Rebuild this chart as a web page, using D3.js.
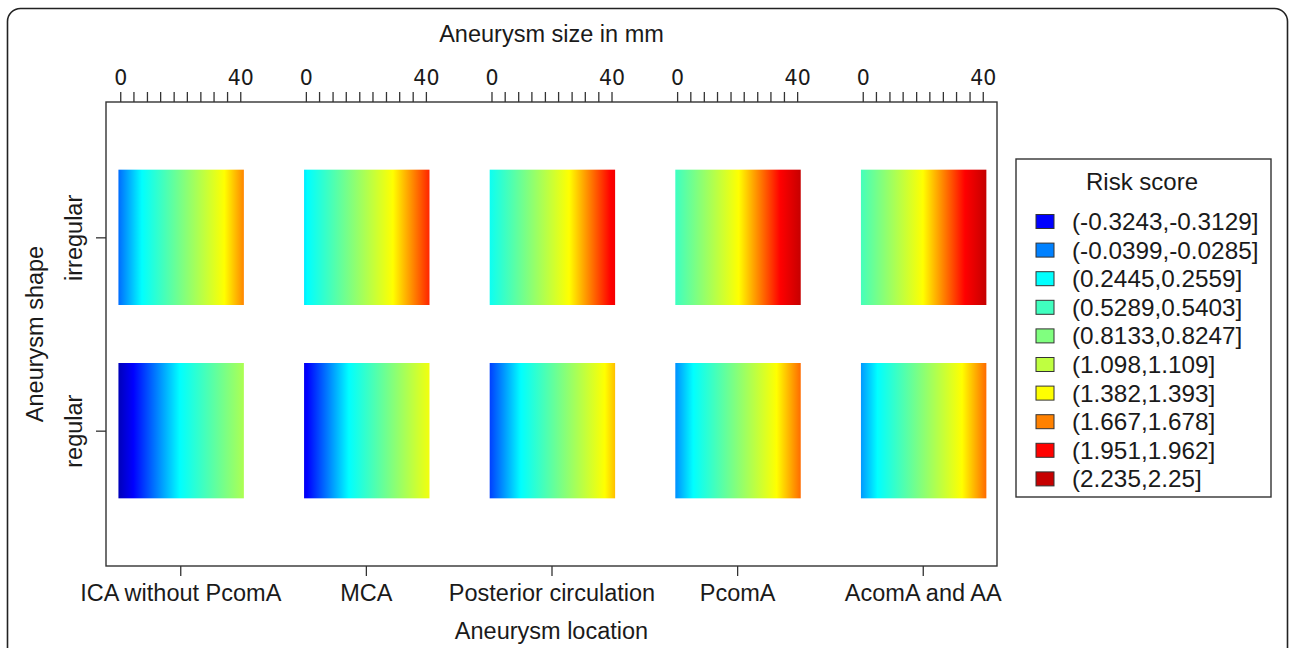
<!DOCTYPE html>
<html>
<head>
<meta charset="utf-8">
<script src="https://cdn.jsdelivr.net/npm/d3@7/dist/d3.min.js"></script>
<style>
body{margin:0;background:#fff;}
svg text{font-family:'Liberation Sans',Arial,sans-serif;fill:#1a1a1a;}
</style>
</head>
<body>
<div id="graph"></div>
<script>
var locations = ['ICA without PcomA', 'MCA', 'Posterior circulation', 'PcomA', 'AcomA and AA']
var shapes = ['regular', 'irregular']

// risk score read at the left (small) and right (large) edge of every tile
var regularLo = [-0.50, -0.36, -0.18, 0.00, 0.02]
var regularHi = [1.02, 1.33, 1.53, 1.72, 1.72]
var irregularLo = [-0.08, 0.20, 0.30, 0.52, 0.55]
var irregularHi = [1.66, 1.88, 2.02, 2.24, 2.25]

var sizeExtent = [-0.6, 41.2]
var sizeTicks = [0, 4.4, 8.9, 13.3, 17.8, 22.2, 26.7, 31.1, 35.6, 40]
var sizeLabels = [0, 40]

var riskBreaks = ['(-0.3243,-0.3129]', '(-0.0399,-0.0285]', '(0.2445,0.2559]', '(0.5289,0.5403]',
  '(0.8133,0.8247]', '(1.098,1.109]', '(1.382,1.393]', '(1.667,1.678]', '(1.951,1.962]', '(2.235,2.25]']
var riskStops = [-0.62, -0.32, 0.245, 1.39, 1.96, 2.53]
var riskColors = ['#00008b', '#0000ff', '#00ffff', '#ffff00', '#ff0000', '#8b0000']

var W = 1292, H = 648
var svg = d3.select('#graph').append('svg').attr('width', W).attr('height', H)

svg.append('rect')
  .attr('x', 7.5).attr('y', 8.5).attr('width', 1280).attr('height', 720)
  .attr('rx', 13).attr('fill', 'none').attr('stroke', '#222').attr('stroke-width', 1.6)

var box = {left: 106, right: 997, top: 102, bottom: 566}

var x = d3.scaleLinear().domain([0.6, 5.4]).range([box.left, box.right])
var y = d3.scaleLinear().domain([0.3, 2.7]).range([box.bottom, box.top])
// size (mm) as an offset inside one location slot
var sizeOff = d3.scaleLinear().domain([0, 40]).range([-0.3233, 0.3233])

var color = d3.scaleLinear().domain(riskStops).range(riskColors)
  .interpolate(d3.interpolateRgb).clamp(true)

var defs = svg.append('defs')

var tiles = []
locations.forEach((loc, i) => {
  tiles.push({loc: i + 1, shape: 1, lo: regularLo[i], hi: regularHi[i]})
  tiles.push({loc: i + 1, shape: 2, lo: irregularLo[i], hi: irregularHi[i]})
})

tiles.forEach((d, k) => {
  d.id = 'grad' + k
  var g = defs.append('linearGradient').attr('id', d.id)
    .attr('x1', 0).attr('x2', 1).attr('y1', 0).attr('y2', 0)
  var vals = [d.lo].concat(riskStops.filter(v => v > d.lo && v < d.hi), [d.hi])
  vals.forEach(v => {
    g.append('stop')
      .attr('offset', (v - d.lo) / (d.hi - d.lo))
      .attr('stop-color', color(v))
  })
})

svg.append('g').selectAll('rect').data(tiles).join('rect')
  .attr('x', d => x(d.loc + sizeOff(sizeExtent[0])))
  .attr('width', d => x(d.loc + sizeOff(sizeExtent[1])) - x(d.loc + sizeOff(sizeExtent[0])))
  .attr('y', d => y(d.shape + 0.35))
  .attr('height', d => y(d.shape - 0.35) - y(d.shape + 0.35))
  .attr('fill', d => 'url(#' + d.id + ')')

svg.append('rect')
  .attr('x', box.left).attr('y', box.top)
  .attr('width', box.right - box.left).attr('height', box.bottom - box.top)
  .attr('fill', 'none').attr('stroke', '#333').attr('stroke-width', 1.4)

function styleAxis(g){
  g.select('.domain').remove()
  g.selectAll('.tick line').attr('stroke', '#333').attr('stroke-width', 1.3)
  g.selectAll('.tick text').attr('fill', '#1a1a1a')
}

// top size axes, one per location
locations.forEach((loc, i) => {
  var s = d3.scaleLinear().domain([0, 40])
    .range([x(i + 1 + sizeOff(0)), x(i + 1 + sizeOff(40))])
  svg.append('g')
    .attr('transform', `translate(0,${box.top})`)
    .call(d3.axisTop(s).tickValues(sizeTicks).tickSize(10).tickPadding(7)
      .tickFormat(d => sizeLabels.includes(d) ? d : ''))
    .call(styleAxis)
    .selectAll('text')
    .style('font-family', "'DejaVu Sans', Verdana, sans-serif")
    .style('font-size', '20.5px')
})

svg.append('g')
  .attr('transform', `translate(0,${box.bottom})`)
  .call(d3.axisBottom(x).tickValues([1, 2, 3, 4, 5]).tickSize(10).tickPadding(8)
    .tickFormat(d => locations[d - 1]))
  .call(styleAxis)
  .selectAll('text').style('font-size', '23.5px').style('font-family', null)

var yAxisSel = svg.append('g')
  .attr('transform', `translate(${box.left},0)`)
  .call(d3.axisLeft(y).tickValues([1, 2]).tickSize(10)
    .tickFormat(d => shapes[d - 1]))
  .call(styleAxis)
yAxisSel.selectAll('text')
  .attr('transform', 'rotate(-90)')
  .attr('x', 0).attr('y', -24).attr('dy', 0)
  .attr('text-anchor', 'middle')
  .style('font-size', '23.5px').style('font-family', null)

svg.append('text')
  .attr('x', (box.left + box.right) / 2).attr('y', 42)
  .attr('text-anchor', 'middle').style('font-size', '23.5px')
  .text('Aneurysm size in mm')

svg.append('text')
  .attr('x', (box.left + box.right) / 2).attr('y', 639)
  .attr('text-anchor', 'middle').style('font-size', '23.5px')
  .text('Aneurysm location')

svg.append('text')
  .attr('transform', `translate(43,${(box.top + box.bottom) / 2}) rotate(-90)`)
  .attr('text-anchor', 'middle').style('font-size', '23.5px')
  .text('Aneurysm shape')

// legend
var leg = svg.append('g').attr('transform', 'translate(1016,159)')
leg.append('rect')
  .attr('width', 255).attr('height', 338)
  .attr('fill', '#fff').attr('stroke', '#333').attr('stroke-width', 1.4)
leg.append('text')
  .attr('x', 126).attr('y', 31)
  .attr('text-anchor', 'middle').style('font-size', '24px')
  .text('Risk score')

var rowSel = leg.selectAll('g.row').data(riskBreaks).join('g')
  .attr('class', 'row')
  .attr('transform', (d, i) => `translate(0,${62.5 + i * 28.6})`)
rowSel.append('rect')
  .attr('x', 20).attr('y', -7).attr('width', 18).attr('height', 14)
  .attr('fill', d => {
    var b = d.slice(1, -1).split(',').map(Number)
    return color((b[0] + b[1]) / 2)
  })
  .attr('stroke', '#333').attr('stroke-width', 1)
rowSel.append('text')
  .attr('x', 56).attr('y', 8.5)
  .style('font-size', '24.3px')
  .text(d => d)
</script>
</body>
</html>
